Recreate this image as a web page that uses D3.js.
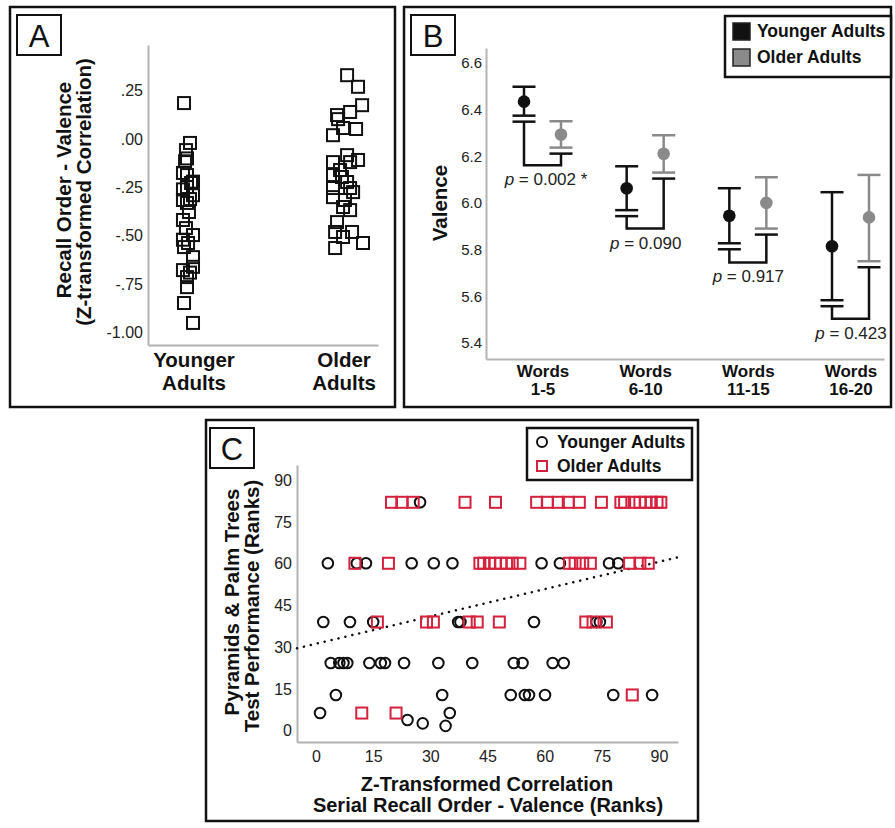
<!DOCTYPE html>
<html>
<head>
<meta charset="utf-8">
<script src="https://cdnjs.cloudflare.com/ajax/libs/d3/7.8.5/d3.min.js"></script>
<style>
body { margin: 0; background: #fff; }
svg { display: block; font-family: "Liberation Sans", Arial, sans-serif; }
</style>
</head>
<body>
<div id="chart"></div>
<script>
// ---- panel A: recall order - valence correlation, [jitter, value]
var groupsA = ["Younger Adults", "Older Adults"];
var ticksA = [0.25, 0, -0.25, -0.5, -0.75, -1];
var tickLabelsA = [".25", ".00", "-.25", "-.50", "-.75", "-1.00"];
var youngerA = [
  [-0.04, 0.186], [0, -0.02], [-0.027, -0.057], [-0.02, -0.10], [-0.033, -0.115],
  [-0.047, -0.175], [-0.02, -0.186], [0.02, -0.22], [0.007, -0.227], [-0.02, -0.248],
  [-0.047, -0.26], [0.02, -0.29], [0, -0.31], [-0.047, -0.315], [-0.02, -0.33],
  [-0.007, -0.377], [-0.047, -0.418], [-0.027, -0.46], [0.02, -0.496], [-0.047, -0.52],
  [-0.013, -0.537], [-0.04, -0.558], [0.02, -0.61], [0.02, -0.66], [-0.047, -0.677],
  [0, -0.69], [-0.02, -0.713], [-0.02, -0.765], [-0.04, -0.847], [0.02, -0.95]
];
var olderA = [
  [0.047, 0.33], [0.12, 0.27], [0.147, 0.175], [0.067, 0.14], [-0.02, 0.124],
  [-0.013, 0.103], [0.107, 0.052], [0.02, 0.057], [-0.047, 0.02], [0.047, -0.083],
  [0.12, -0.108], [0.067, -0.119], [-0.047, -0.119], [0, -0.16], [-0.047, -0.186],
  [0.013, -0.196], [0.047, -0.222], [0.067, -0.253], [-0.047, -0.253], [0.087, -0.274],
  [-0.047, -0.30], [0.033, -0.315], [0.02, -0.351], [0.067, -0.367], [-0.02, -0.429],
  [-0.033, -0.48], [0.08, -0.48], [0.02, -0.506], [0.153, -0.537], [-0.033, -0.563]
];

// ---- panel B: valence by serial position
var wordBins = ["1-5", "6-10", "11-15", "16-20"];
var ticksB = [5.4, 5.6, 5.8, 6.0, 6.2, 6.4, 6.6];
var youngMean = [6.434, 6.063, 5.945, 5.814];
var youngLow = [6.374, 5.969, 5.827, 5.583];
var youngHigh = [6.498, 6.157, 6.063, 6.046];
var olderMean = [6.293, 6.211, 6.0, 5.938];
var olderLow = [6.237, 6.13, 5.89, 5.75];
var olderHigh = [6.35, 6.29, 6.11, 6.12];
var bracketLow = [6.161, 5.89, 5.745, 5.503];
var pValues = ["0.002 *", "0.090", "0.917", "0.423"];

// ---- panel C: ranks, [x, y]
var ticksC = [0, 15, 30, 45, 60, 75, 90];
var fitIntercept = 31.3, fitSlope = 0.327;
var youngerC = [
  [27.3, 82.1],
  [3.1, 60.2], [10.7, 60.2], [13.1, 60.2], [25.1, 60.2], [30.9, 60.2], [35.8, 60.2],
  [59.2, 60.2], [64, 60.2], [76.9, 60.2], [79.3, 60.2],
  [1.9, 39.1], [8.9, 39.1], [15.0, 39.1], [37.3, 39.1], [37.9, 39.1], [57.2, 39.1],
  [73.6, 39.1], [74.5, 39.1],
  [3.85, 24.4], [6.1, 24.4], [7.2, 24.4], [8.2, 24.4], [14.0, 24.4], [17.0, 24.4],
  [18.1, 24.4], [23.1, 24.4], [32.1, 24.4], [41.0, 24.4], [51.9, 24.4], [54.2, 24.4],
  [62.1, 24.4], [65.0, 24.4],
  [5.2, 12.9], [33.1, 12.9], [51.1, 12.9], [54.8, 12.9], [55.9, 12.9], [60.1, 12.9],
  [78.0, 12.9], [88.2, 12.9],
  [1.05, 6.4], [35.1, 6.4], [24.0, 3.9], [28.0, 2.7], [34.0, 1.8]
];
var olderC = [
  [19.8, 82.1], [22.5, 82.1], [25.5, 82.1], [39.1, 82.1], [47.1, 82.1], [57.9, 82.1],
  [60.7, 82.1], [63.6, 82.1], [66.2, 82.1], [69.1, 82.1], [74.9, 82.1], [80, 82.1],
  [81, 82.1], [83.5, 82.1], [85, 82.1], [86.5, 82.1], [88, 82.1], [89.5, 82.1], [90.5, 82.1],
  [10.2, 60.2], [19.0, 60.2], [43, 60.2], [44, 60.2], [45.5, 60.2], [47, 60.2],
  [48.5, 60.2], [50, 60.2], [51.5, 60.2], [53.5, 60.2], [66.5, 60.2], [68, 60.2],
  [70, 60.2], [72, 60.2], [82.3, 60.2], [85, 60.2], [87.2, 60.2],
  [16.1, 39.1], [29.0, 39.1], [30.8, 39.1], [40.2, 39.1], [42.3, 39.1], [48.1, 39.1],
  [70.8, 39.1], [72.7, 39.1], [76.2, 39.1],
  [83.0, 12.9], [12.0, 6.4], [21.0, 6.4]
];

var axisGray = "#b3b3b3", ink = "#111", oldGray = "#8a8a8a", red = "#d4213d";
var titleSize = 20.5;

var svg = d3.select("#chart").append("svg")
    .attr("width", 895)
    .attr("height", 828);

function panelBox(x, y, w, h) {
    svg.append("rect")
        .attr("x", x).attr("y", y).attr("width", w).attr("height", h)
        .attr("fill", "none").attr("stroke", ink).attr("stroke-width", 2.5);
}
function panelLetter(x, y, letter) {
    svg.append("rect")
        .attr("x", x).attr("y", y).attr("width", 44).attr("height", 40)
        .attr("fill", "#fff").attr("stroke", ink).attr("stroke-width", 2);
    svg.append("text")
        .attr("x", x + 22).attr("y", y + 32)
        .attr("text-anchor", "middle")
        .style("font-size", "31px")
        .attr("fill", ink)
        .text(letter);
}
function styleAxis(g, size) {
    g.select(".domain").attr("stroke", axisGray).attr("stroke-width", 2);
    g.selectAll(".tick line").remove();
    g.selectAll("text").attr("fill", "#222").style("font-size", size + "px").attr("font-family", null);
}
function rotTitle(x, y, txt, size) {
    svg.append("text")
        .attr("transform", "translate(" + x + "," + y + ") rotate(-90)")
        .attr("text-anchor", "middle")
        .style("font-size", size + "px").style("font-weight", "bold")
        .attr("fill", ink)
        .text(txt);
}
function boldText(x, y, txt, size) {
    svg.append("text")
        .attr("x", x).attr("y", y)
        .attr("text-anchor", "middle")
        .style("font-size", size + "px").style("font-weight", "bold")
        .attr("fill", ink)
        .text(txt);
}

// ================= Panel A =================
panelBox(10, 7, 385, 400);
var xA = d3.scaleLinear().domain([0.72, 2.253]).range([148, 378]);
var yA = d3.scaleLinear().domain([-1.064, 0.486]).range([345, 45]);

svg.append("g").attr("transform", "translate(148,0)")
    .call(d3.axisLeft(yA).tickValues(ticksA)
        .tickFormat(function (d, i) { return tickLabelsA[i]; })
        .tickSize(0).tickPadding(5))
    .call(styleAxis, 16);
svg.append("g").attr("transform", "translate(0,345)")
    .call(d3.axisBottom(xA).tickValues([]).tickSize(0))
    .call(styleAxis, 16);

[youngerA, olderA].forEach(function (pts, gi) {
    svg.append("g").selectAll("rect")
        .data(pts)
        .enter().append("rect")
        .attr("x", function (d) { return xA(gi + 1 + d[0]) - 6; })
        .attr("y", function (d) { return yA(d[1]) - 6; })
        .attr("width", 12).attr("height", 12)
        .attr("fill", "none").attr("stroke", ink).attr("stroke-width", 2);
});
groupsA.forEach(function (g, i) {
    var parts = g.split(" ");
    boldText(xA(i + 1) + 4, 367, parts[0], titleSize);
    boldText(xA(i + 1) + 4, 390, parts[1], titleSize);
});
rotTitle(71, 190, "Recall Order - Valence", titleSize);
rotTitle(91, 192, "(Z-transformed Correlation)", titleSize);
panelLetter(17, 15, "A");

// ================= Panel B =================
panelBox(404, 7, 487, 400);
var xB = d3.scalePoint().domain(wordBins).range([543, 851]);
var yB = d3.scaleLinear().domain([5.331, 6.664]).range([359, 48]);

svg.append("g").attr("transform", "translate(486,0)")
    .call(d3.axisLeft(yB).tickValues(ticksB).tickFormat(d3.format(".1f"))
        .tickSize(0).tickPadding(4))
    .call(styleAxis, 15);
svg.append("g").attr("transform", "translate(0,359)")
    .call(d3.axisBottom(d3.scaleLinear().range([486, 884])).tickValues([]).tickSize(0))
    .call(styleAxis, 15);

var cap = 11.5;
var gB = svg.append("g").attr("fill", "none").attr("stroke-width", 2.5);
function hline(g, x, y, color) {
    g.append("line").attr("x1", x - cap).attr("x2", x + cap)
        .attr("y1", y).attr("y2", y).attr("stroke", color);
}
wordBins.forEach(function (bin, i) {
    var yx = xB(bin) - 19, ox = xB(bin) + 18;
    // older error bar (gray)
    gB.append("line").attr("x1", ox).attr("x2", ox)
        .attr("y1", yB(olderHigh[i])).attr("y2", yB(olderLow[i])).attr("stroke", oldGray);
    hline(gB, ox, yB(olderHigh[i]), oldGray);
    hline(gB, ox, yB(olderLow[i]), oldGray);
    // younger error bar
    gB.append("line").attr("x1", yx).attr("x2", yx)
        .attr("y1", yB(youngHigh[i])).attr("y2", yB(youngLow[i])).attr("stroke", ink);
    hline(gB, yx, yB(youngHigh[i]), ink);
    hline(gB, yx, yB(youngLow[i]), ink);
    // comparison bracket
    var ys = yB(youngLow[i]) + 6, os = yB(olderLow[i]) + 6, yb = yB(bracketLow[i]);
    hline(gB, yx, ys, ink);
    hline(gB, ox, os, ink);
    gB.append("path")
        .attr("d", "M" + yx + "," + ys + "V" + yb + "H" + ox + "V" + os)
        .attr("stroke", ink);
    // means
    svg.append("circle").attr("cx", yx).attr("cy", yB(youngMean[i])).attr("r", 6.3).attr("fill", ink);
    svg.append("circle").attr("cx", ox).attr("cy", yB(olderMean[i])).attr("r", 6.3).attr("fill", oldGray);
    // p label
    var t = svg.append("text")
        .attr("x", xB(bin) + (i === 0 ? 3 : 0)).attr("y", yb + 20)
        .attr("text-anchor", "middle")
        .style("font-size", "17px").attr("fill", "#222");
    t.append("tspan").style("font-style", "italic").text("p");
    t.append("tspan").text(" = " + pValues[i]);
    // category label
    boldText(xB(bin), 377, "Words", 17);
    boldText(xB(bin), 395, bin, 17);
});
rotTitle(447, 203, "Valence", titleSize);
panelLetter(411, 15, "B");

// legend B
svg.append("rect").attr("x", 725).attr("y", 16).attr("width", 166).attr("height", 61)
    .attr("fill", "#fff").attr("stroke", ink).attr("stroke-width", 2.5);
[["Younger Adults", ink], ["Older Adults", oldGray]].forEach(function (d, i) {
    svg.append("rect").attr("x", 733).attr("y", 23 + i * 26).attr("width", 17).attr("height", 17)
        .attr("fill", d[1]).attr("stroke", "#222").attr("stroke-width", 1.5);
    svg.append("text").attr("x", 757).attr("y", 37 + i * 25.5)
        .style("font-size", "17.5px").style("font-weight", "bold").attr("fill", ink)
        .text(d[0]);
});

// ================= Panel C =================
panelBox(206, 420, 492, 401);
var xC = d3.scaleLinear().domain([-5, 95]).range([297, 678]);
var yC = d3.scaleLinear().domain([-4, 95.5]).range([742, 465]);

svg.append("g").attr("transform", "translate(297,0)")
    .call(d3.axisLeft(yC).tickValues(ticksC).tickSize(0).tickPadding(5))
    .call(styleAxis, 16);
svg.append("g").attr("transform", "translate(0,742)")
    .call(d3.axisBottom(xC).tickValues(ticksC).tickSize(0).tickPadding(9))
    .call(styleAxis, 16);

svg.append("line")
    .attr("x1", xC(-5)).attr("y1", yC(fitIntercept + fitSlope * -5))
    .attr("x2", xC(95)).attr("y2", yC(fitIntercept + fitSlope * 95))
    .attr("stroke", ink).attr("stroke-width", 2.5)
    .attr("stroke-linecap", "round").attr("stroke-dasharray", "0.1,7");

svg.append("g").selectAll("circle")
    .data(youngerC)
    .enter().append("circle")
    .attr("cx", function (d) { return xC(d[0]); })
    .attr("cy", function (d) { return yC(d[1]); })
    .attr("r", 5.3)
    .attr("fill", "none").attr("stroke", ink).attr("stroke-width", 2);
svg.append("g").selectAll("rect")
    .data(olderC)
    .enter().append("rect")
    .attr("x", function (d) { return xC(d[0]) - 5.5; })
    .attr("y", function (d) { return yC(d[1]) - 5.5; })
    .attr("width", 11).attr("height", 11)
    .attr("fill", "none").attr("stroke", red).attr("stroke-width", 2);

boldText(487, 791, "Z-Transformed Correlation", 20);
boldText(488, 812, "Serial Recall Order - Valence (Ranks)", 20);
rotTitle(239, 602, "Pyramids & Palm Trees", titleSize);
rotTitle(259, 606, "Test Performance (Ranks)", titleSize);
panelLetter(210, 428, "C");

// legend C
svg.append("rect").attr("x", 527).attr("y", 428).attr("width", 165).attr("height", 52)
    .attr("fill", "#fff").attr("stroke", ink).attr("stroke-width", 2.5);
svg.append("circle").attr("cx", 542).attr("cy", 442).attr("r", 5)
    .attr("fill", "none").attr("stroke", ink).attr("stroke-width", 2);
svg.append("rect").attr("x", 537).attr("y", 461).attr("width", 10).attr("height", 10)
    .attr("fill", "none").attr("stroke", red).attr("stroke-width", 2);
svg.append("text").attr("x", 557).attr("y", 448)
    .style("font-size", "17.5px").style("font-weight", "bold").attr("fill", ink).text("Younger Adults");
svg.append("text").attr("x", 557).attr("y", 472)
    .style("font-size", "17.5px").style("font-weight", "bold").attr("fill", ink).text("Older Adults");
</script>
</body>
</html>
